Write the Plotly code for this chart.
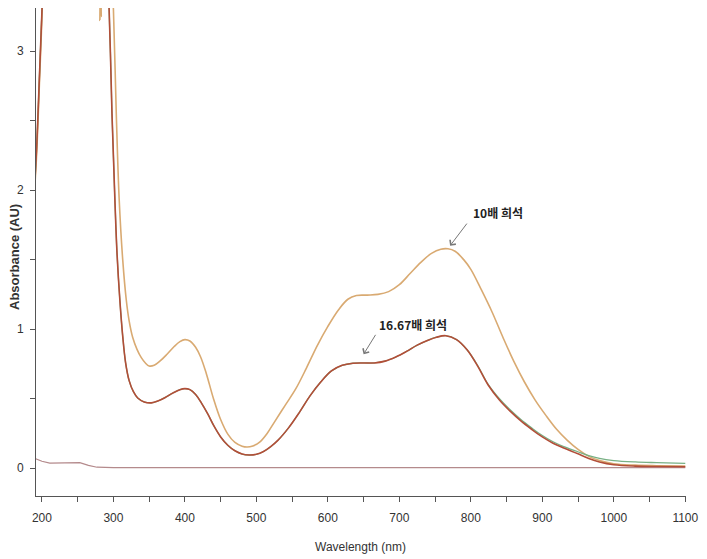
import plotly.graph_objects as go

# ---- data ----
wl_10x = [190, 193, 196, 199, 202, 210, 240, 270, 280, 281, 282, 283, 284, 290, 297,
          300, 304, 308, 313, 318, 322, 327, 333, 339, 345, 350, 357, 365, 375, 385, 393, 400, 407, 415, 422, 430,
          440, 450, 460, 470, 480, 487, 495, 505, 515, 525, 540, 555, 570, 585, 600, 615, 628, 640, 655,
          670, 685, 700, 715, 730, 745, 758, 768, 778, 790, 800, 815, 830, 845, 860, 875, 890, 905, 920, 935,
          950, 965, 980, 1000, 1030, 1060, 1100]
abs_10x = [2.02, 2.3, 2.7, 3.1, 3.5, 4.0, 4.0, 4.0, 4.0, 3.22, 4.0, 3.25, 4.0, 4.0, 3.6,
           3.3, 2.55, 1.94, 1.5, 1.21, 1.06, 0.94, 0.855, 0.795, 0.755, 0.735, 0.74, 0.77, 0.82, 0.875, 0.91, 0.925, 0.915, 0.87, 0.8, 0.68,
           0.5, 0.35, 0.245, 0.185, 0.158, 0.152, 0.16, 0.19, 0.25, 0.33, 0.45, 0.57, 0.72, 0.88, 1.02, 1.14, 1.215, 1.242, 1.245,
           1.25, 1.27, 1.32, 1.4, 1.48, 1.545, 1.575, 1.578, 1.56, 1.5, 1.43, 1.28, 1.12, 0.94, 0.77, 0.62, 0.49, 0.38, 0.28, 0.2,
           0.135, 0.085, 0.055, 0.032, 0.022, 0.018, 0.015]

wl_1667x = [190, 193, 196, 199, 202, 210, 240, 270, 288,
            294, 298, 302, 305, 309, 313, 317, 322, 328, 334, 343, 353, 363, 373, 383, 393, 400, 407, 415, 423, 432,
            441, 450, 460, 470, 480, 490, 500, 510, 520, 530, 545, 560, 575, 590, 605, 620, 635, 650, 665, 680,
            695, 710, 725, 740, 752, 765, 780, 795, 810, 824, 840, 855, 870, 885, 900, 915, 930, 949, 965, 980,
            1000, 1030, 1060, 1100]
abs_1667x_red = [2.05, 2.35, 2.75, 3.15, 3.5, 4.0, 4.0, 4.0, 4.0,
                 3.3, 2.55, 1.94, 1.55, 1.21, 0.95, 0.76, 0.63, 0.55, 0.505, 0.477, 0.47, 0.485, 0.51, 0.54, 0.565, 0.572, 0.565, 0.53, 0.47, 0.39,
                 0.3, 0.225, 0.165, 0.125, 0.102, 0.095, 0.1, 0.12, 0.155, 0.2, 0.29, 0.4, 0.52, 0.62, 0.7, 0.74, 0.755, 0.757, 0.757, 0.77,
                 0.8, 0.84, 0.885, 0.92, 0.942, 0.953, 0.925, 0.85, 0.73, 0.6, 0.49, 0.41, 0.34, 0.28, 0.225, 0.18, 0.145, 0.105, 0.07, 0.045,
                 0.025, 0.015, 0.012, 0.01]
abs_1667x_green = [2.05, 2.35, 2.75, 3.15, 3.5, 4.0, 4.0, 4.0, 4.0,
                   3.3, 2.55, 1.94, 1.55, 1.21, 0.95, 0.76, 0.63, 0.55, 0.505, 0.477, 0.47, 0.485, 0.51, 0.54, 0.565, 0.572, 0.565, 0.53, 0.47, 0.39,
                   0.3, 0.225, 0.165, 0.125, 0.102, 0.095, 0.1, 0.12, 0.155, 0.2, 0.29, 0.4, 0.52, 0.62, 0.7, 0.74, 0.755, 0.757, 0.757, 0.77,
                   0.8, 0.84, 0.885, 0.92, 0.942, 0.953, 0.925, 0.85, 0.735, 0.605, 0.5, 0.42, 0.35, 0.29, 0.235, 0.19, 0.155, 0.12, 0.09, 0.07,
                   0.055, 0.045, 0.04, 0.035]

wl_base = [190, 200, 211, 220, 235, 253, 265, 277, 300, 400, 600, 800, 1000, 1100]
abs_base = [0.07, 0.05, 0.036, 0.038, 0.04, 0.04, 0.02, 0.007, 0.004, 0.004, 0.004, 0.004, 0.004, 0.004]

x_ticks = [200, 300, 400, 500, 600, 700, 800, 900, 1000, 1100]
y_ticks = [0, 1, 2, 3]

label_10x = "10배 희석"
label_1667x = "16.67배 희석"

fig = go.Figure()
fig.add_trace(go.Scatter(x=wl_base, y=abs_base, mode="lines", line=dict(color="#b48a8c", width=1.2),
                         showlegend=False))
fig.add_trace(go.Scatter(x=wl_10x, y=abs_10x, mode="lines", line=dict(color="#d9aa72", width=1.6, shape="spline", smoothing=1.0),
                         showlegend=False))
fig.add_trace(go.Scatter(x=wl_1667x, y=abs_1667x_green, mode="lines", line=dict(color="#78b084", width=1.3, shape="spline", smoothing=1.0),
                         showlegend=False))
fig.add_trace(go.Scatter(x=wl_1667x, y=abs_1667x_red, mode="lines", line=dict(color="#b24e38", width=1.6, shape="spline", smoothing=1.0),
                         showlegend=False))

tick_font = dict(family="Liberation Sans Narrow, Liberation Sans, Arial", size=12, color="#333333")

fig.update_xaxes(range=[191.7, 1101], tickvals=x_ticks, ticktext=[str(v) for v in x_ticks],
                 showline=True, linecolor="#555555", linewidth=1, ticks="outside", ticklen=5, tickcolor="#555555",
                 minor=dict(dtick=50, tick0=200, ticks="outside", ticklen=5, tickcolor="#555555"),
                 showgrid=False, zeroline=False, tickfont=tick_font, ticklabelstandoff=6)
fig.update_yaxes(range=[-0.2, 3.31], tickvals=y_ticks, ticktext=[str(v) for v in y_ticks],
                 showline=True, linecolor="#555555", linewidth=1, ticks="outside", ticklen=5, tickcolor="#555555",
                 minor=dict(dtick=0.5, tick0=0, ticks="outside", ticklen=5, tickcolor="#555555"),
                 showgrid=False, zeroline=False, tickfont=tick_font, ticklabelstandoff=4)

ann_font = dict(family="Noto Sans CJK KR, Noto Sans", size=12, color="#222222")
fig.add_annotation(x=771, y=1.60, ax=796, ay=1.77, axref="x", ayref="y", xref="x", yref="y",
                   showarrow=True, arrowhead=4, arrowsize=1.4, arrowwidth=1, arrowcolor="#777777", text="")
fig.add_annotation(x=838, y=1.84, xref="x", yref="y", text="<b>" + label_10x + "</b>", showarrow=False, font=ann_font)
fig.add_annotation(x=650, y=0.82, ax=668, ay=0.97, axref="x", ayref="y", xref="x", yref="y",
                   showarrow=True, arrowhead=4, arrowsize=1.4, arrowwidth=1, arrowcolor="#777777", text="")
fig.add_annotation(x=719, y=1.03, xref="x", yref="y", text="<b>" + label_1667x + "</b>", showarrow=False, font=ann_font)

# axis titles placed in paper coordinates (plot area spans x 36..689 px, y 8..496 px)
fig.add_annotation(x=-(36 - 15) / (689 - 36), y=0.49, xref="paper", yref="paper", xanchor="center", yanchor="middle",
                   text="<b>Absorbance (AU)</b>", textangle=-90, showarrow=False,
                   font=dict(family="Liberation Sans, Arial", size=13, color="#333333"))
fig.add_annotation(x=(362 - 36) / (689 - 36), y=-(547 - 496) / 488, xref="paper", yref="paper",
                   xanchor="center", yanchor="middle", text="Wavelength (nm)", showarrow=False,
                   font=dict(family="Liberation Sans Narrow, Liberation Sans, Arial", size=12, color="#333333"))

fig.update_layout(width=707, height=559, margin=dict(l=36, r=18, t=8, b=63),
                  plot_bgcolor="white", paper_bgcolor="white")

fig.write_html("out.html")
